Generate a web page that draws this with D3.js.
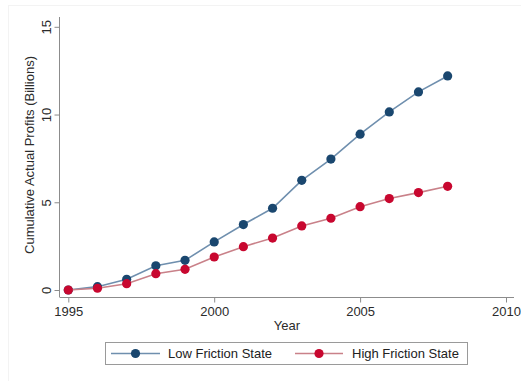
<!DOCTYPE html>
<html>
<head>
<meta charset="utf-8">
<script src="https://cdn.jsdelivr.net/npm/d3@7"></script>
<style>
  html, body { margin: 0; padding: 0; background: #fff; }
  svg { display: block; font-family: "Liberation Sans", Arial, sans-serif; }
</style>
</head>
<body>
<svg id="chart" width="521" height="381"></svg>
<script>
// Cumulative actual profits (billions) by year
const years = [1995, 1996, 1997, 1998, 1999, 2000, 2001, 2002, 2003, 2004, 2005, 2006, 2007, 2008];
const lowFriction = [0, 0.19, 0.61, 1.38, 1.69, 2.74, 3.73, 4.66, 6.25, 7.46, 8.88, 10.15, 11.29, 12.2];
const highFriction = [0, 0.1, 0.36, 0.93, 1.18, 1.88, 2.47, 2.96, 3.65, 4.09, 4.75, 5.21, 5.55, 5.91];
const xTicks = [1995, 2000, 2005, 2010];
const yTicks = [0, 5, 10, 15];
const seriesNames = ["Low Friction State", "High Friction State"];

const svg = d3.select("#chart");

// faint outer graph region outline
svg.append("rect")
  .attr("x", 8.5).attr("y", 5.5).attr("width", 520).attr("height", 380)
  .attr("fill", "none").attr("stroke", "#f3f3f3");

const x = d3.scaleLinear().domain([1995, 2010]).range([68.3, 506]);
const y = d3.scaleLinear().domain([0, 15]).range([290, 26.8]);

const axisColor = "#8c8c8c";
const textColor = "#2b2b2b";

// y axis (vertical tick labels)
const yAxis = svg.append("g")
  .attr("transform", "translate(59.5,0)")
  .call(d3.axisLeft(y).tickValues(yTicks).tickSize(5).tickPadding(4).tickSizeOuter(0));
yAxis.select(".domain").attr("d", "M0,17V297").attr("stroke", axisColor);
yAxis.selectAll(".tick line").attr("stroke", axisColor);
yAxis.selectAll(".tick text")
  .attr("transform", "rotate(-90)")
  .attr("x", 0).attr("y", -9)
  .attr("dy", 0)
  .attr("text-anchor", "middle")
  .attr("font-size", 13)
  .attr("fill", textColor);

// x axis
const xAxis = svg.append("g")
  .attr("transform", "translate(0,297.5)")
  .call(d3.axisBottom(x).tickValues(xTicks).tickFormat(d3.format("d")).tickSize(5).tickPadding(4).tickSizeOuter(0));
xAxis.select(".domain").attr("d", "M59.5,0H514").attr("stroke", axisColor);
xAxis.selectAll(".tick line").attr("stroke", axisColor);
xAxis.selectAll(".tick text")
  .attr("font-size", 13)
  .attr("fill", textColor);

// axis titles
svg.append("text")
  .attr("transform", "translate(34,155) rotate(-90)")
  .attr("text-anchor", "middle")
  .attr("font-size", 13)
  .attr("fill", textColor)
  .text("Cumulative Actual Profits (Billions)");

svg.append("text")
  .attr("x", 287).attr("y", 330)
  .attr("text-anchor", "middle")
  .attr("font-size", 13)
  .attr("fill", textColor)
  .text("Year");

const series = [
  { name: seriesNames[0], values: lowFriction, line: "#6f8fae", marker: "#1a476f" },
  { name: seriesNames[1], values: highFriction, line: "#c98189", marker: "#c8072f" }
];

const line = d3.line().x(d => x(d[0])).y(d => y(d[1]));

// connected lines with filled circle markers, one series at a time
series.forEach(s => {
  const pts = years.map((yr, i) => [yr, s.values[i]]);
  svg.append("path")
    .datum(pts)
    .attr("d", line)
    .attr("fill", "none")
    .attr("stroke", s.line)
    .attr("stroke-width", 1.6);
  svg.append("g").selectAll("circle")
    .data(pts)
    .join("circle")
    .attr("cx", d => x(d[0]))
    .attr("cy", d => y(d[1]))
    .attr("r", 4.6)
    .attr("fill", s.marker);
});

// legend
const legend = svg.append("g");
legend.append("rect")
  .attr("x", 105.5).attr("y", 342.5).attr("width", 362).attr("height", 22)
  .attr("fill", "#fff").attr("stroke", "#9a9a9a");

const legendItems = [
  { x0: 111, x1: 160, tx: 168 },
  { x0: 295, x1: 343, tx: 352 }
];
series.forEach((s, i) => {
  const it = legendItems[i];
  legend.append("line")
    .attr("x1", it.x0).attr("x2", it.x1)
    .attr("y1", 353.5).attr("y2", 353.5)
    .attr("stroke", s.line).attr("stroke-width", 1.6);
  legend.append("circle")
    .attr("cx", (it.x0 + it.x1) / 2).attr("cy", 353.5)
    .attr("r", 4.6).attr("fill", s.marker);
  legend.append("text")
    .attr("x", it.tx).attr("y", 358)
    .attr("font-size", 13)
    .attr("fill", "#222")
    .text(s.name);
});
</script>
</body>
</html>
